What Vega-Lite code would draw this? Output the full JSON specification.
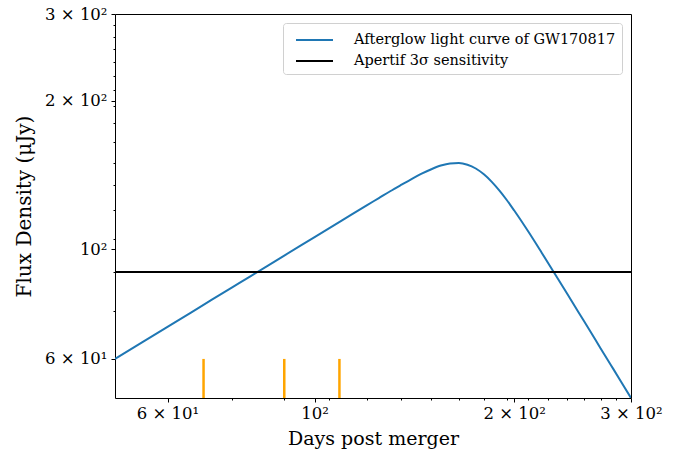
{
  "$schema": "https://vega.github.io/schema/vega-lite/v6.json",
  "width": 516,
  "height": 384,
  "autosize": "none",
  "padding": {"left": 115, "top": 14, "right": 53, "bottom": 59},
  "background": "white",
  "config": {
    "view": {"stroke": "#000000", "strokeWidth": 1},
    "font": "DejaVu Serif",
    "axis": {
      "grid": false,
      "domain": false,
      "tickColor": "#000000",
      "tickWidth": 1,
      "labelColor": "#000000",
      "labelFont": "DejaVu Serif",
      "labelFontSize": 16.5,
      "labelFlush": false,
      "labelOverlap": false,
      "titleFont": "DejaVu Serif",
      "titleFontSize": 19,
      "titleFontWeight": "normal",
      "titleColor": "#000000"
    }
  },
  "datasets": {
    "curve": [
      {"day": 50, "flux": 60.0, "series": "Afterglow light curve of GW170817"},
      {"day": 55, "flux": 64.9, "series": "Afterglow light curve of GW170817"},
      {"day": 60, "flux": 69.7, "series": "Afterglow light curve of GW170817"},
      {"day": 65, "flux": 74.4, "series": "Afterglow light curve of GW170817"},
      {"day": 70, "flux": 79.1, "series": "Afterglow light curve of GW170817"},
      {"day": 75, "flux": 83.7, "series": "Afterglow light curve of GW170817"},
      {"day": 80, "flux": 88.2, "series": "Afterglow light curve of GW170817"},
      {"day": 90, "flux": 97.2, "series": "Afterglow light curve of GW170817"},
      {"day": 100, "flux": 105.9, "series": "Afterglow light curve of GW170817"},
      {"day": 110, "flux": 114.5, "series": "Afterglow light curve of GW170817"},
      {"day": 120, "flux": 123.0, "series": "Afterglow light curve of GW170817"},
      {"day": 125, "flux": 127.1, "series": "Afterglow light curve of GW170817"},
      {"day": 130, "flux": 131.2, "series": "Afterglow light curve of GW170817"},
      {"day": 135, "flux": 135.1, "series": "Afterglow light curve of GW170817"},
      {"day": 140, "flux": 138.9, "series": "Afterglow light curve of GW170817"},
      {"day": 145, "flux": 142.4, "series": "Afterglow light curve of GW170817"},
      {"day": 150, "flux": 145.4, "series": "Afterglow light curve of GW170817"},
      {"day": 155, "flux": 147.9, "series": "Afterglow light curve of GW170817"},
      {"day": 160, "flux": 149.4, "series": "Afterglow light curve of GW170817"},
      {"day": 165, "flux": 149.7, "series": "Afterglow light curve of GW170817"},
      {"day": 170, "flux": 148.5, "series": "Afterglow light curve of GW170817"},
      {"day": 175, "flux": 145.9, "series": "Afterglow light curve of GW170817"},
      {"day": 180, "flux": 142.0, "series": "Afterglow light curve of GW170817"},
      {"day": 185, "flux": 137.1, "series": "Afterglow light curve of GW170817"},
      {"day": 190, "flux": 131.6, "series": "Afterglow light curve of GW170817"},
      {"day": 195, "flux": 125.8, "series": "Afterglow light curve of GW170817"},
      {"day": 200, "flux": 119.9, "series": "Afterglow light curve of GW170817"},
      {"day": 210, "flux": 108.7, "series": "Afterglow light curve of GW170817"},
      {"day": 220, "flux": 98.5, "series": "Afterglow light curve of GW170817"},
      {"day": 230, "flux": 89.5, "series": "Afterglow light curve of GW170817"},
      {"day": 240, "flux": 81.6, "series": "Afterglow light curve of GW170817"},
      {"day": 250, "flux": 74.6, "series": "Afterglow light curve of GW170817"},
      {"day": 260, "flux": 68.5, "series": "Afterglow light curve of GW170817"},
      {"day": 270, "flux": 63.0, "series": "Afterglow light curve of GW170817"},
      {"day": 280, "flux": 58.2, "series": "Afterglow light curve of GW170817"},
      {"day": 290, "flux": 53.9, "series": "Afterglow light curve of GW170817"},
      {"day": 300, "flux": 50.0, "series": "Afterglow light curve of GW170817"}
    ],
    "sens": [{"flux": 90, "series": "Apertif 3σ sensitivity"}],
    "obs": [
      {"day": 68, "lo": 50, "hi": 60},
      {"day": 90, "lo": 50, "hi": 60},
      {"day": 109, "lo": 50, "hi": 60}
    ]
  },
  "layer": [
    {
      "data": {"name": "curve"},
      "mark": {"type": "line", "strokeWidth": 2, "interpolate": "monotone", "clip": true},
      "encoding": {
        "x": {
          "field": "day", "type": "quantitative",
          "scale": {"type": "log", "domain": [50, 300], "nice": false, "zero": false},
          "axis": {
            "orient": "bottom",
            "values": [60, 75, 90, 100, 105, 120, 135, 150, 165, 180, 195, 200, 210, 225, 240, 255, 270, 285, 300],
            "tickSize": {"condition": {"test": "datum.value == 60 || datum.value == 100 || datum.value == 200 || datum.value == 300", "value": 4}, "value": 2},
            "labelPadding": 3,
            "labelExpr": "datum.value == 60 ? '6 × 10¹' : datum.value == 100 ? '10²' : datum.value == 200 ? '2 × 10²' : datum.value == 300 ? '3 × 10²' : ''",
            "title": "Days post merger",
            "titlePadding": 8
          }
        },
        "y": {
          "field": "flux", "type": "quantitative",
          "scale": {"type": "log", "domain": [50, 300], "nice": false, "zero": false},
          "axis": {
            "orient": "left",
            "values": [60, 75, 90, 100, 105, 120, 135, 150, 165, 180, 195, 200, 210, 225, 240, 255, 270, 285, 300],
            "tickSize": {"condition": {"test": "datum.value == 60 || datum.value == 100 || datum.value == 200 || datum.value == 300", "value": 4}, "value": 2},
            "labelPadding": 4,
            "labelExpr": "datum.value == 60 ? '6 × 10¹' : datum.value == 100 ? '10²' : datum.value == 200 ? '2 × 10²' : datum.value == 300 ? '3 × 10²' : ''",
            "title": "Flux Density (μJy)",
            "titleFontSize": 20,
            "titlePadding": 10
          }
        },
        "color": {
          "field": "series", "type": "nominal",
          "scale": {
            "domain": ["Afterglow light curve of GW170817", "Apertif 3σ sensitivity"],
            "range": ["#1f77b4", "#000000"]
          },
          "legend": {
            "title": null,
            "orient": "top-right",
            "offset": 9,
            "symbolType": "M-0.4,0H3.3",
            "symbolStrokeWidth": 2,
            "symbolSize": 400,
            "labelOffset": 43,
            "labelFontSize": 14.5,
            "labelFont": "DejaVu Serif",
            "labelColor": "#000000",
            "labelLimit": 500,
            "rowPadding": 3,
            "padding": 6,
            "strokeColor": "#d0d0d0",
            "cornerRadius": 3,
            "fillColor": "rgba(255,255,255,0.8)"
          }
        }
      }
    },
    {
      "data": {"name": "sens"},
      "mark": {"type": "rule", "strokeWidth": 2},
      "encoding": {
        "y": {"field": "flux", "type": "quantitative"},
        "color": {"field": "series", "type": "nominal"}
      }
    },
    {
      "data": {"name": "obs"},
      "mark": {"type": "rule", "strokeWidth": 2.5, "color": "#ffa500"},
      "encoding": {
        "x": {"field": "day", "type": "quantitative"},
        "y": {"field": "lo", "type": "quantitative"},
        "y2": {"field": "hi"}
      }
    }
  ]
}
